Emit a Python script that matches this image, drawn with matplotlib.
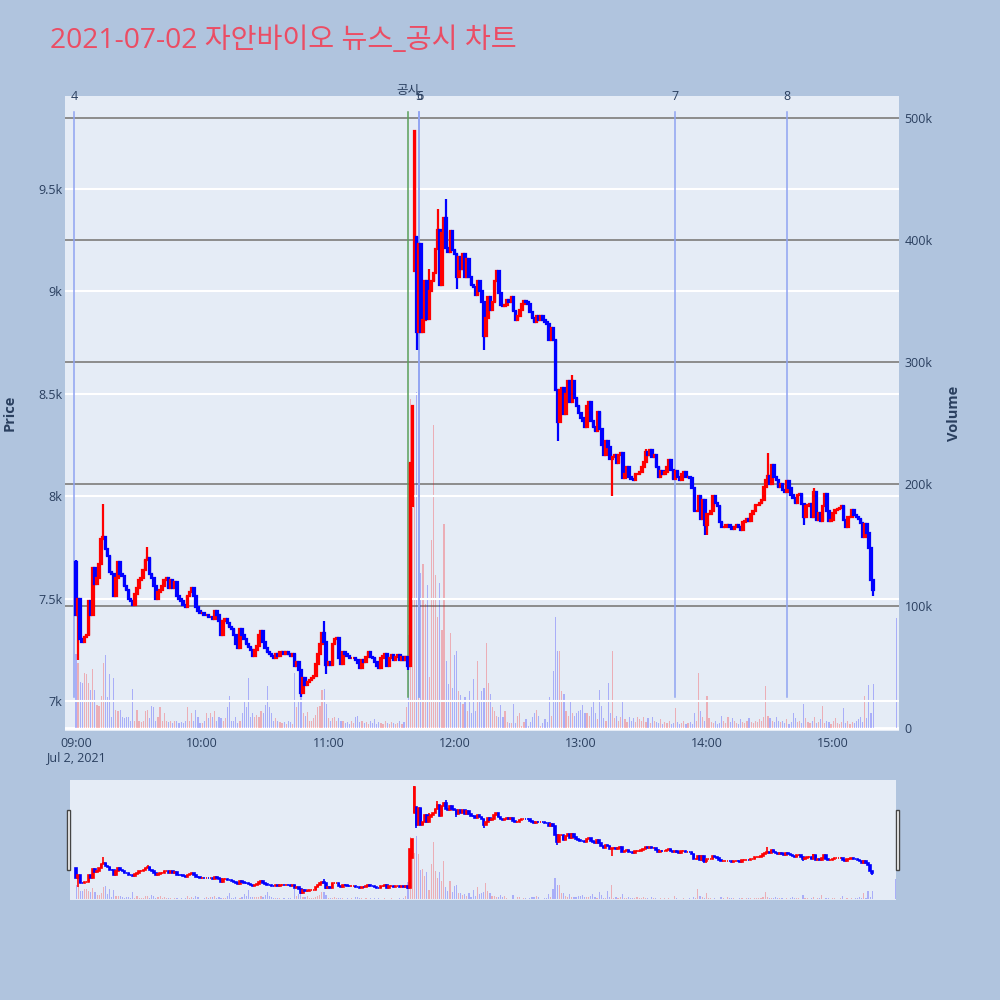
# -*- coding: utf-8 -*-
"""
Minute candles + volume for 자안바이오 on 2021-07-02, with news / disclosure markers
and a plotly-style range slider underneath.
"""

import matplotlib

matplotlib.use("Agg")
import matplotlib.pyplot as plt
from matplotlib.patches import Rectangle

# one close per minute, starting 09:00
CLOSE = [
    # 09:00 - 10:37
    7420, 7500, 7300, 7290, 7310, 7320, 7490, 7420, 7650, 7570,
    7600, 7670, 7790, 7800, 7740, 7710, 7630, 7620, 7510, 7600,
    7680, 7620, 7610, 7560, 7540, 7500, 7490, 7470, 7520, 7550,
    7590, 7600, 7640, 7690, 7700, 7620, 7600, 7560, 7500, 7530,
    7540, 7560, 7590, 7600, 7550, 7590, 7550, 7580, 7510, 7500,
    7490, 7470, 7460, 7510, 7530, 7550, 7510, 7460, 7440, 7430,
    7430, 7420, 7420, 7410, 7410, 7400, 7440, 7420, 7390, 7320,
    7390, 7400, 7380, 7360, 7350, 7320, 7280, 7260, 7350, 7320,
    7300, 7280, 7265, 7250, 7220, 7250, 7270, 7320, 7340, 7290,
    7260, 7240, 7230, 7220, 7210, 7230, 7220, 7240,
    # 10:38 - 11:38
    7240, 7230, 7240, 7230, 7220, 7230, 7170, 7190, 7150, 7040,
    7110, 7080, 7090, 7100, 7110, 7120, 7180, 7230, 7280, 7330,
    7290, 7175, 7190, 7175, 7280, 7300, 7305, 7210, 7180, 7240,
    7230, 7220, 7210, 7210, 7210, 7200, 7185, 7160, 7200, 7190,
    7215, 7240, 7215, 7210, 7190, 7170, 7160, 7210, 7220, 7230,
    7170, 7210, 7225, 7200, 7215, 7225, 7200, 7215, 7200, 7215,
    7170,
    # 11:39 - 11:42 surge
    8160, 8440, 9785, 8800,
    # 11:43 - 13:08
    9230, 8800, 8860, 9050, 8865, 9000, 9050, 9090, 9205, 9300,
    9030, 9285, 9360, 9210, 9190, 9295, 9200, 9180, 9070, 9170,
    9110, 9180, 9070, 9160, 9070, 9030, 9020, 8980, 9050, 9000,
    8950, 8780, 8870, 8970, 8910, 8950, 9050, 9100, 8990, 8935,
    8930, 8935, 8960, 8950, 8970, 8905, 8860, 8880, 8910, 8940,
    8955, 8950, 8940, 8900, 8870, 8850, 8880, 8860, 8880, 8860,
    8850, 8840, 8760, 8820, 8760, 8520, 8360, 8520, 8530, 8400,
    8500, 8560, 8460, 8560, 8480, 8440, 8405, 8380, 8365, 8340,
    8440, 8460, 8365, 8340, 8320, 8410,
    # 13:09 - 14:34
    8330, 8250, 8200, 8270, 8240, 8180, 8190, 8200, 8160, 8200,
    8210, 8090, 8110, 8140, 8095, 8085, 8080, 8110, 8110, 8120,
    8140, 8165, 8215, 8200, 8225, 8190, 8200, 8140, 8095, 8125,
    8110, 8120, 8140, 8175, 8130, 8085, 8125, 8095, 8080, 8110,
    8120, 8095, 8095, 8090, 8040, 7925, 7925, 8000, 7890, 7980,
    7860, 7915, 7915, 7925, 8000, 7965, 7950, 7875, 7850, 7850,
    7860, 7860, 7850, 7840, 7850, 7860, 7850, 7835, 7875, 7880,
    7890, 7880, 7915, 7925, 7955, 7955, 7965, 7980, 8045, 8080,
    8100, 8060, 8150, 8095, 8080, 8045,
    # 14:35 - 15:19
    8060, 8030, 8020, 8075, 8040, 8005, 7990, 7965, 8005, 8010,
    7960, 7900, 7950, 7955, 7960, 7900, 8020, 7885, 7920, 7880,
    7950, 8010, 7925, 7880, 7885, 7920, 7930, 7935, 7940, 7950,
    7885, 7850, 7900, 7900, 7930, 7910, 7900, 7890, 7870, 7800,
    7865, 7820, 7745, 7590, 7540,
]
FIRST_OPEN = 7680
# minutes whose open gapped away from the previous close
OPEN_OVERRIDES = {160: 7950, 161: 9100, 162: 9265}
HIGH_WICKS = {0: 7690, 13: 7960, 34: 7750, 118: 7390, 161: 9790, 168: 9110,
              172: 9400, 176: 9450, 236: 8590, 271: 8230, 329: 8210, 351: 8040}
LOW_WICKS = {1: 7200, 107: 7020, 119: 7130, 158: 7150, 162: 8716, 181: 9010,
             194: 8716, 229: 8270, 255: 8000, 299: 7810, 300: 7810, 346: 7860,
             379: 7510}

# volume per minute, thousands of shares
VOLUME_K = [
    61, 53, 38, 37, 45, 44, 37, 31, 48, 31,
    19, 18, 26, 53, 60, 25, 44, 9, 41, 15,
    14, 15, 9, 8, 9, 9, 6, 32, 6, 15,
    6, 5, 6, 14, 15, 8, 18, 17, 6, 9,
    17, 6, 12, 6, 5, 6, 4, 6, 6, 4,
    5, 4, 6, 17, 6, 12, 6, 15, 9, 4,
    4, 6, 12, 8, 12, 9, 14, 6, 9, 8,
    6, 8, 17, 26, 6, 6, 9, 4, 6, 12,
    23, 17, 41, 9, 12, 9, 11, 9, 14, 12,
    19, 34, 17, 12, 6, 8, 6, 5,
    4, 5, 3, 6, 5, 3, 45, 17, 23, 30,
    12, 10, 13, 6, 6, 8, 11, 17, 18, 31,
    32, 20, 8, 6, 8, 9, 6, 8, 6, 6,
    4, 5, 3, 6, 4, 9, 10, 5, 6, 4,
    5, 3, 6, 4, 7, 3, 5, 4, 3, 6,
    4, 3, 5, 4, 3, 4, 6, 3, 5, 17, 76,
    270, 180, 200, 275,
    197, 127, 134, 102, 117, 42, 154, 248, 125, 91,
    119, 80, 167, 55, 36, 78, 33, 60, 63, 30,
    27, 20, 25, 14, 30, 12, 40, 14, 55, 23,
    30, 33, 70, 37, 28, 17, 14, 10, 9, 19,
    9, 14, 5, 4, 4, 20, 4, 10, 12, 2,
    5, 7, 2, 5, 9, 12, 15, 10, 2, 4,
    7, 5, 25, 10, 47, 91,
    63, 63, 30, 28, 14, 10, 22, 12, 10, 12,
    14, 15, 19, 12, 12, 10, 17, 23, 12, 7,
    31, 18, 8, 6, 37, 12, 63, 8, 10, 6,
    9, 22, 7, 5, 9, 6, 8, 5, 9, 7,
    6, 9, 5, 8, 4, 9, 6, 5, 4, 7,
    3, 5, 4, 6, 3, 4, 16, 5, 3, 4,
    6, 3, 4, 5, 3, 12, 6, 45, 14, 9,
    6, 26, 8, 5, 4, 6, 3, 4, 10, 6,
    4, 9, 5, 8, 6, 4, 3, 7, 5, 4,
    6, 8, 5, 4, 6, 5, 7, 6, 9, 34,
    10, 8, 6, 5, 9, 6,
    5, 6, 4, 7, 3, 5, 12, 8, 5, 6,
    4, 20, 8, 5, 4, 6, 9, 4, 5, 7,
    18, 4, 6, 5, 3, 6, 8, 4, 3, 5,
    16, 4, 6, 3, 5, 4, 6, 7, 9, 5,
    26, 8, 35, 12, 36,
]
AUCTION_MINUTE = 390  # 15:30 closing auction, volume only
AUCTION_VOLUME_K = 90

EVENT_LABELS = ["4", "공시", "5", "6", "7", "8"]
EVENT_MINUTES = [-1, 158, 163, 163.3, 285, 338]

HOUR_TICKS = [0, 60, 120, 180, 240, 300, 360]
HOUR_LABELS = ["09:00\nJul 2, 2021", "10:00", "11:00", "12:00", "13:00", "14:00", "15:00"]
PRICE_TICKS = [7000, 7500, 8000, 8500, 9000, 9500]
PRICE_LABELS = ["7k", "7.5k", "8k", "8.5k", "9k", "9.5k"]
VOLUME_TICKS = [0, 100, 200, 300, 400, 500]
VOLUME_LABELS = ["0", "100k", "200k", "300k", "400k", "500k"]

TITLE = "2021-07-02 자안바이오 뉴스_공시 차트"

FONTS = ["Open Sans", "Noto Sans CJK KR", "DejaVu Sans"]
TEXT_COLOR = "#2a3f5f"
PLOT_BG = "#E5ECF6"
UP, DOWN = "#FF0000", "#0000FF"


def _candles():
    """Build open/high/low/close lists from the minute closes."""
    opens, highs, lows = [], [], []
    prev = FIRST_OPEN
    for i, c in enumerate(CLOSE):
        o = OPEN_OVERRIDES.get(i, prev)
        opens.append(o)
        highs.append(max(o, c, HIGH_WICKS.get(i, c)))
        lows.append(min(o, c, LOW_WICKS.get(i, c)))
        prev = c
    return opens, highs, lows


def _draw(ax_vol, ax_price, lw):
    opens, highs, lows = _candles()
    minutes = list(range(len(CLOSE)))
    colors = [UP if c >= o else DOWN for o, c in zip(opens, CLOSE)]

    vol_x = minutes + [AUCTION_MINUTE]
    vol_c = colors + [DOWN]
    vol_y = VOLUME_K + [AUCTION_VOLUME_K]
    ax_vol.bar(vol_x, vol_y, width=0.55, color=vol_c, alpha=0.26, linewidth=0)

    ax_price.vlines(minutes, lows, highs, colors=colors, lw=lw, zorder=3)
    ax_price.bar(minutes, [c - o for o, c in zip(opens, CLOSE)], bottom=opens,
                 width=0.75, color=colors, edgecolor=colors, linewidth=lw, zorder=4)


def main():
    plt.rcParams["font.family"] = FONTS
    fig = plt.figure(figsize=(10, 10), dpi=100, facecolor="#B0C4DE")

    ax_vol = fig.add_axes([0.065, 0.269, 0.834, 0.635], facecolor=PLOT_BG)
    ax_price = ax_vol.twinx()
    _draw(ax_vol, ax_price, lw=1.6)

    ax_vol.set_xlim(-5.2, 391.3)
    ax_vol.set_ylim(-2.5, 518)
    ax_price.set_ylim(6853, 9954)

    # gridlines: grey for volume, white for price, white zero line
    for v in VOLUME_TICKS[1:]:
        ax_vol.axhline(v, color="#8c8c8c", lw=1.4, zorder=0.5)
    ax_vol.axhline(0, color="white", lw=2, zorder=0.5)
    ax_price.set_axisbelow(True)
    ax_price.grid(axis="y", color="white", lw=1.5)

    ax_vol.yaxis.tick_right()
    ax_price.yaxis.tick_left()
    ax_vol.set_yticks(VOLUME_TICKS, VOLUME_LABELS)
    ax_price.set_yticks(PRICE_TICKS, PRICE_LABELS)
    ax_vol.set_xticks(HOUR_TICKS, HOUR_LABELS)
    ax_vol.tick_params(axis="y", length=0, pad=4, labelsize=9, labelcolor=TEXT_COLOR)
    ax_price.tick_params(axis="y", length=0, pad=2, labelsize=9, labelcolor=TEXT_COLOR)
    ax_vol.tick_params(axis="x", length=0, pad=4, labelsize=9, labelcolor=TEXT_COLOR)
    for ax in (ax_vol, ax_price):
        for s in ax.spines.values():
            s.set_visible(False)

    # news / disclosure markers
    xtr = ax_price.get_xaxis_transform()
    for label, m in zip(EVENT_LABELS, EVENT_MINUTES):
        col = "#5aa05a" if label == "공시" else "#8fa3f2"
        ax_price.axvline(m, ymin=0.054, ymax=0.975, color=col, lw=1.1, zorder=2)
        y = 1.009 if label == "공시" else 0.999
        ax_price.text(m, y, label, transform=xtr, ha="center", va="center",
                      fontsize=9, color=TEXT_COLOR, clip_on=False)

    fig.text(0.05, 0.959, TITLE, fontsize=20.3, color="#EB4D64", ha="left", va="center")
    fig.text(0.010, 0.587, "Price", rotation=90, ha="center", va="center",
             fontsize=10.5, fontweight="bold", color=TEXT_COLOR)
    fig.text(0.954, 0.587, "Volume", rotation=90, ha="center", va="center",
             fontsize=10.5, fontweight="bold", color=TEXT_COLOR)

    # range slider
    sl_vol = fig.add_axes([0.070, 0.100, 0.826, 0.120], facecolor=PLOT_BG)
    sl_price = sl_vol.twinx()
    _draw(sl_vol, sl_price, lw=1.2)
    sl_vol.set_xlim(-2.9, 390.3)
    sl_vol.set_ylim(-2.5, 518)
    sl_price.set_ylim(6853, 9954)
    for ax in (sl_vol, sl_price):
        ax.set_xticks([])
        ax.set_yticks([])
        for s in ax.spines.values():
            s.set_visible(False)
    for x0 in (0.0665, 0.8955):
        fig.patches.append(Rectangle((x0, 0.130), 0.0035, 0.060, transform=fig.transFigure,
                                     facecolor="white", edgecolor="#444444", lw=1))

    fig.savefig("out.png", dpi=100, facecolor=fig.get_facecolor())


if __name__ == "__main__":
    main()
